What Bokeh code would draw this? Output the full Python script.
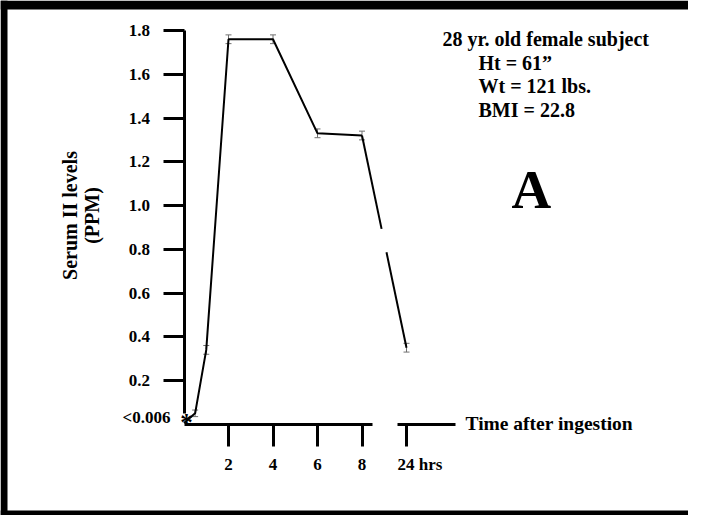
from bokeh.plotting import figure
from bokeh.models import (ColumnDataSource, FixedTicker, LinearAxis, Range1d,
                          Label, Span, Whisker, TeeHead, Grid)
from bokeh.embed import file_html
from bokeh.resources import INLINE

# ---------------- data ----------------
hours = [0, 0.5, 1, 2, 4, 6, 8, 24]
serum_ppm = [0.006, 0.05, 0.34, 1.76, 1.76, 1.33, 1.32, 0.35]
serum_err = [0.0, 0.015, 0.02, 0.02, 0.02, 0.02, 0.02, 0.02]

y_ticks = [0.2, 0.4, 0.6, 0.8, 1.0, 1.2, 1.4, 1.6, 1.8]
y_tick_labels = ["0.2", "0.4", "0.6", "0.8", "1.0", "1.2", "1.4", "1.6", "1.8"]
baseline_label = "<0.006"
x_ticks = [2, 4, 6, 8]
x_tick_labels = ["2", "4", "6", "8"]
late_tick = [24]
late_tick_label = ["24 hrs"]
y_title = "Serum II levels\n(PPM)"
x_title = "Time after ingestion"
subject_lines = ["28 yr. old female subject", "Ht = 61\u201d", "Wt = 121 lbs.", "BMI = 22.8"]
panel_letter = "A"

# ---------------- broken time axis ----------------
BREAK_AT = 8      # hours drawn linearly up to here
LATE_POS = 10     # 24 hrs is drawn where hour 10 would be


def axis_pos(h):
    return h if h <= BREAK_AT else LATE_POS


xs = [axis_pos(h) for h in hours]

# ---------------- layout constants ----------------
W, H = 688, 515
PX_PER_HR = 22.25
PX_PER_UNIT = 218.75
ORIGIN_X = 183.5      # canvas px of hour 0
ORIGIN_Y = 423.75     # canvas px of level 0
x_start = -ORIGIN_X / PX_PER_HR
x_end = (W - ORIGIN_X) / PX_PER_HR
y_end = ORIGIN_Y / PX_PER_UNIT
y_start = -(H - ORIGIN_Y) / PX_PER_UNIT


def X(px):  # canvas px -> data x
    return (px - ORIGIN_X) / PX_PER_HR


def Y(py):  # canvas px -> data y
    return (ORIGIN_Y - py) / PX_PER_UNIT


FONT = "Liberation Serif"

p = figure(width=W, height=H, x_range=Range1d(x_start, x_end), y_range=Range1d(y_start, y_end),
           output_backend="svg", toolbar_location=None, min_border=0,
           x_axis_location=None, y_axis_location=None)
p.outline_line_color = None
for r in list(p.center):
    if isinstance(r, Grid):
        r.visible = False

# ---------------- axes ----------------
tick_style = dict(major_label_text_font=FONT, major_label_text_font_style="bold",
                  major_label_text_font_size="17px", major_label_text_color="black",
                  axis_line_width=3, axis_line_color="black",
                  major_tick_line_width=3, major_tick_line_color="black",
                  major_tick_in=0, minor_tick_out=0, minor_tick_in=0)

yax = LinearAxis(fixed_location=0, bounds=(0.05, y_ticks[-1]),
                 ticker=FixedTicker(ticks=y_ticks, minor_ticks=[]),
                 major_label_overrides=dict(zip(y_ticks, y_tick_labels)),
                 major_tick_out=21, major_label_standoff=13, **tick_style)
p.add_layout(yax, "left")

# axis that only carries the y title (centred on the drawn part of the y axis)
ytitle_ax = LinearAxis(fixed_location=0, bounds=(0.11, y_ticks[-1]),
                       ticker=FixedTicker(ticks=[], minor_ticks=[]),
                       axis_line_color=None, major_tick_line_color=None, minor_tick_line_color=None,
                       major_tick_out=0, major_tick_in=0, minor_tick_out=0, minor_tick_in=0,
                       major_label_standoff=0,
                       axis_label=y_title, axis_label_text_font=FONT,
                       axis_label_text_font_style="bold", axis_label_text_font_size="20px",
                       axis_label_text_color="black",
                       axis_label_text_line_height=1.0, axis_label_standoff=82)
p.add_layout(ytitle_ax, "left")

xax = LinearAxis(fixed_location=0, bounds=(0, 8.47),
                 ticker=FixedTicker(ticks=x_ticks, minor_ticks=[]),
                 major_label_overrides=dict(zip(x_ticks, x_tick_labels)),
                 major_tick_out=22, major_label_standoff=13, **tick_style)
p.add_layout(xax, "below")

late_pos = [axis_pos(h) for h in late_tick]
xax2 = LinearAxis(fixed_location=0, bounds=(9.6, 12.2),
                  ticker=FixedTicker(ticks=late_pos, minor_ticks=[]),
                  major_label_overrides={late_pos[0]: ""},
                  major_tick_out=22, major_label_standoff=13, **tick_style)
p.add_layout(xax2, "below")

# ---------------- data line (with break on the late segment) ----------------
early = [i for i, h in enumerate(hours) if h <= BREAK_AT]
p.line([xs[i] for i in early], [serum_ppm[i] for i in early], line_color="black", line_width=2)

i0, i1 = early[-1], early[-1] + 1
GAP = (0.44, 0.55)


def lerp(a, b, t):
    return a + (b - a) * t


x0s = [xs[i0], lerp(xs[i0], xs[i1], GAP[1])]
y0s = [serum_ppm[i0], lerp(serum_ppm[i0], serum_ppm[i1], GAP[1])]
x1s = [lerp(xs[i0], xs[i1], GAP[0]), xs[i1]]
y1s = [lerp(serum_ppm[i0], serum_ppm[i1], GAP[0]), serum_ppm[i1]]
p.segment(x0=x0s, y0=y0s, x1=x1s, y1=y1s, line_color="black", line_width=2)

# error bars
eb = [(x, v, e) for x, v, e in zip(xs, serum_ppm, serum_err) if e > 0]
src = ColumnDataSource(dict(x=[a for a, _, _ in eb],
                            upper=[v + e for _, v, e in eb],
                            lower=[v - e for _, v, e in eb]))
ecol = "#707070"
p.add_layout(Whisker(source=src, base="x", upper="upper", lower="lower",
                     line_color=ecol, line_width=1,
                     upper_head=TeeHead(size=6, line_color=ecol, line_width=1),
                     lower_head=TeeHead(size=6, line_color=ecol, line_width=1)))


# ---------------- texts ----------------
def lab(text, px, py, size, align="left"):
    p.add_layout(Label(x=X(px), y=Y(py), text=text, text_font=FONT, text_font_style="bold",
                       text_font_size=size, text_align=align, text_baseline="alphabetic",
                       text_color="black"))


lab(baseline_label, 170, 417, "17px", align="right")
lab("*", 186, 422, "25px", align="center")
lab(late_tick_label[0], 397, 464, "17px")
lab(x_title, 465, 423, "19.5px")
lab(subject_lines[0], 442, 38.5, "20px")
for k, s in enumerate(subject_lines[1:]):
    lab(s, 478, 62 + 23.5 * k, "20px")
lab(panel_letter, 511, 188.5, "55px")

# ---------------- frame border ----------------
p.add_layout(Span(location=x_start + 3.5 / PX_PER_HR, dimension="height", line_color="black", line_width=7))
p.add_layout(Span(location=y_end - 4.5 / PX_PER_UNIT, dimension="width", line_color="black", line_width=9))
p.add_layout(Span(location=y_start + 2.5 / PX_PER_UNIT, dimension="width", line_color="black", line_width=5))

open("out.html", "w").write(file_html(p, INLINE))
